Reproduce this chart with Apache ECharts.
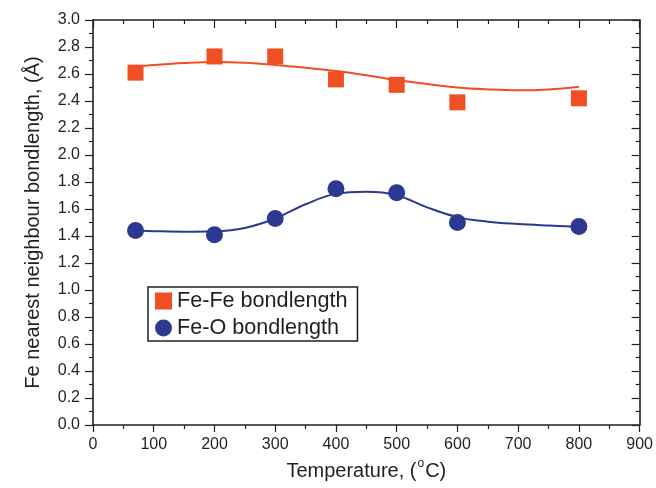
<!DOCTYPE html>
<html>
<head>
<meta charset="utf-8">
<script src="https://cdn.jsdelivr.net/npm/echarts@6/dist/echarts.min.js"></script>
<style>
  html, body { margin: 0; padding: 0; background: #fff; }
  #chart { width: 656px; height: 488px; }
</style>
</head>
<body>
<div id="chart"></div>
<script>
// Measured nearest-neighbour bond lengths (Å) versus temperature (°C)
const temperatures = [70, 200, 300, 400, 500, 600, 800];
const feFeBond = [2.61, 2.73, 2.73, 2.56, 2.52, 2.39, 2.42];
const feOBond = [1.44, 1.41, 1.53, 1.75, 1.72, 1.50, 1.47];

// Smooth trend curves through the measurements
const fitTemps = [70, 100, 150, 200, 250, 300, 350, 400, 450, 500, 550, 600, 650, 700, 750, 800];
const feFeFit = [2.654, 2.666, 2.681, 2.689, 2.683, 2.667, 2.646, 2.622, 2.590, 2.556, 2.526, 2.500, 2.486, 2.479, 2.486, 2.506];
const feOFit = [1.440, 1.436, 1.432, 1.435, 1.460, 1.530, 1.635, 1.712, 1.727, 1.702, 1.612, 1.540, 1.506, 1.489, 1.478, 1.469];

const xTicks = { min: 0, max: 900, interval: 100 };
const yTicks = { min: 0, max: 3.0, interval: 0.2 };

const seriesNames = ['Fe-Fe bondlength', 'Fe-O bondlength'];
const orange = '#f04f23';
const blue = '#2b3990';
const ink = '#231f20';
const font = 'Liberation Sans, Arial, Helvetica, sans-serif';

const zip = (xs, ys) => xs.map((x, i) => [x, ys[i]]);

const lineStyle = { color: ink, width: 1.6 };

function frameAxis(extra) {
  return Object.assign({
    type: 'value',
    axisLine: { show: true, onZero: false, lineStyle },
    splitLine: { show: false },
    minorTick: { show: true, splitNumber: 2, length: 4, lineStyle: { color: ink, width: 1.2 } },
    axisTick: { show: true, length: 7, lineStyle: { color: ink, width: 1.2 } }
  }, extra);
}

const chart = echarts.init(document.getElementById('chart'), null, { renderer: 'canvas' });

chart.setOption({
  animation: false,
  backgroundColor: '#fff',
  textStyle: { fontFamily: font },
  grid: { left: 93, right: 15, top: 20, bottom: 63, containLabel: false },
  xAxis: [
    frameAxis(Object.assign({}, xTicks, {
      position: 'bottom',
      axisTick: { show: true, inside: false, length: 7, lineStyle: { color: ink, width: 1.2 } },
      axisLabel: { fontSize: 16, color: ink, margin: 12, fontFamily: font },
      name: 'Temperature, ({sup|o}C)',
      nameLocation: 'middle',
      nameGap: 33,
      nameTextStyle: {
        fontSize: 20, color: ink, fontFamily: font,
        rich: { sup: { fontSize: 12, color: ink, fontFamily: font, verticalAlign: 'top', padding: [0, 1, 14, 1] } }
      }
    })),
    frameAxis(Object.assign({}, xTicks, {
      position: 'top',
      axisTick: { show: true, inside: true, length: 8, lineStyle: { color: ink, width: 1.2 } },
      axisLabel: { show: false }
    }))
  ],
  yAxis: [
    frameAxis(Object.assign({}, yTicks, {
      position: 'left',
      axisTick: { show: true, inside: false, length: 8, lineStyle: { color: ink, width: 1.2 } },
      axisLabel: { fontSize: 16, color: ink, margin: 13, fontFamily: font, formatter: v => v.toFixed(1) },
      name: 'Fe nearest neighbour bondlength, (Å)',
      nameLocation: 'middle',
      nameGap: 50,
      nameTextStyle: { fontSize: 20, color: ink, fontFamily: font }
    })),
    frameAxis(Object.assign({}, yTicks, {
      position: 'right',
      axisTick: { show: true, inside: true, length: 8, lineStyle: { color: ink, width: 1.2 } },
      axisLabel: { show: false }
    }))
  ],
  legend: {
    orient: 'vertical',
    left: 148,
    top: 287,
    padding: [3, 10, 2, 7],
    itemGap: 5,
    itemWidth: 17,
    itemHeight: 17,
    borderColor: ink,
    borderWidth: 1.5,
    backgroundColor: '#fff',
    textStyle: { fontSize: 21.6, color: ink, fontFamily: font },
    data: [
      { name: seriesNames[0], icon: 'rect' },
      { name: seriesNames[1], icon: 'circle' }
    ]
  },
  series: [
    {
      type: 'line',
      name: 'Fe-Fe fit',
      data: zip(fitTemps, feFeFit),
      smooth: 0.4,
      showSymbol: false,
      lineStyle: { color: orange, width: 2 },
      z: 2,
      silent: true
    },
    {
      type: 'line',
      name: 'Fe-O fit',
      data: zip(fitTemps, feOFit),
      smooth: 0.4,
      showSymbol: false,
      lineStyle: { color: blue, width: 2 },
      z: 2,
      silent: true
    },
    {
      type: 'scatter',
      name: seriesNames[0],
      data: zip(temperatures, feFeBond),
      symbol: 'rect',
      symbolSize: 16,
      itemStyle: { color: orange, opacity: 1 },
      z: 3
    },
    {
      type: 'scatter',
      name: seriesNames[1],
      data: zip(temperatures, feOBond),
      symbol: 'circle',
      symbolSize: 17,
      itemStyle: { color: blue, opacity: 1 },
      z: 3
    }
  ]
});
</script>
</body>
</html>
